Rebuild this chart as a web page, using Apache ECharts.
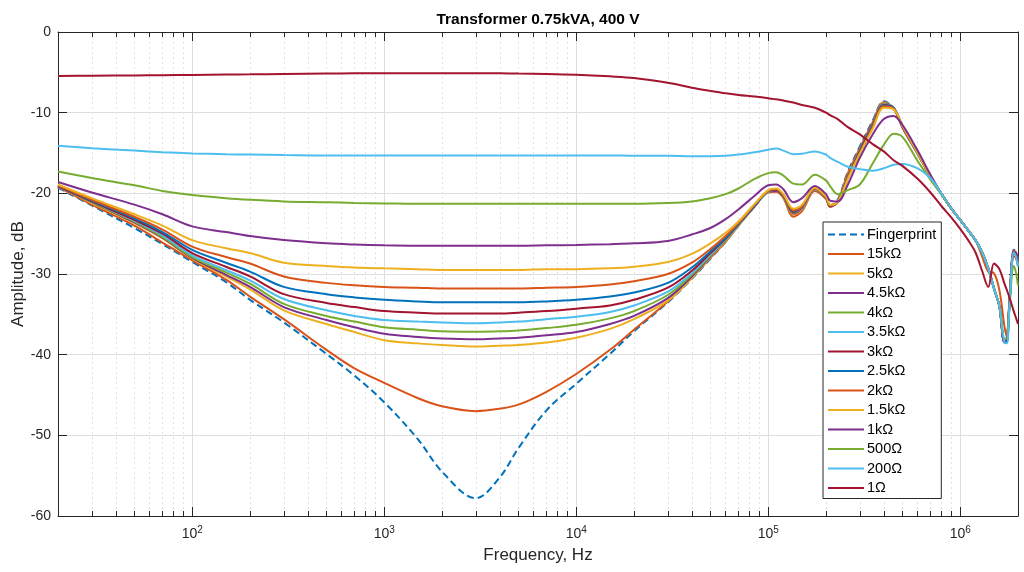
<!DOCTYPE html>
<html><head><meta charset="utf-8">
<script src="https://cdn.jsdelivr.net/npm/echarts@6/dist/echarts.min.js"></script>
<style>html,body{margin:0;padding:0;background:#fff}#c{width:1024px;height:572px}</style>
</head><body><div id="c"></div>
<script>
const freqHz = [20,30,50,70,100,150,200,300,500,700,
  1000,1500,2000,3000,4000,5000,7000,1e4,1.5e4,2e4,
  3e4,4e4,5e4,6e4,7e4,8.5e4,1e5,1.1e5,1.2e5,1.35e5,
  1.5e5,1.75e5,2e5,2.1e5,2.3e5,2.6e5,3e5,3.5e5,4e5,4.5e5,
  5e5,6e5,7e5,8e5,9e5,1e6,1.1e6,1.2e6,1.3e6,1.4e6,
  1.5e6,1.6e6,1.7e6,1.75e6,1.8e6,1.9e6,1.95e6,2e6];

const fingerprint = [-19.3,-21.5,-24.3,-26.3,-28.5,-31.0,-33.2,-36.0,-39.9,-42.6,
  -45.9,-50.5,-54.5,-57.8,-55.2,-51.6,-46.9,-43.6,-39.9,-37.1,
  -33.5,-30.6,-28.1,-26.0,-24.0,-21.6,-19.8,-19.7,-20.5,-22.6,
  -22.0,-19.6,-20.6,-21.5,-20.8,-17.3,-14.2,-11.0,-8.6,-9.5,
  -11.8,-15.1,-17.9,-20.1,-21.9,-23.3,-24.6,-25.8,-27.3,-29.3,
  -31.8,-34.0,-38.4,-38.2,-33.8,-27.0,-27.2,-28.0];
const r15k = [-19.2,-21.4,-24.0,-26.1,-28.3,-30.7,-32.8,-35.6,-39.4,-41.7,
  -43.5,-45.4,-46.4,-47.0,-46.7,-46.2,-44.6,-42.4,-39.4,-36.9,
  -33.4,-30.5,-28.0,-26.0,-24.0,-21.6,-19.9,-19.8,-20.6,-22.9,
  -22.2,-19.7,-20.7,-21.7,-21.0,-17.5,-14.4,-11.2,-8.7,-9.5,
  -11.8,-15.1,-17.9,-20.1,-21.9,-23.3,-24.6,-25.8,-27.3,-29.3,
  -31.8,-34.0,-38.4,-38.2,-33.8,-27.1,-27.3,-28.3];
const r5k = [-19.2,-21.2,-23.7,-25.6,-28.1,-30.3,-31.9,-34.5,-36.2,-37.2,
  -38.2,-38.6,-38.8,-39.0,-38.9,-38.8,-38.5,-37.9,-36.8,-35.6,
  -33.3,-30.5,-27.9,-25.9,-24.0,-21.6,-19.8,-19.7,-20.5,-22.6,
  -22.0,-19.5,-20.6,-21.6,-21.0,-17.7,-14.6,-11.4,-8.8,-9.4,
  -11.8,-15.1,-17.9,-20.1,-21.9,-23.3,-24.6,-25.8,-27.3,-29.3,
  -31.8,-34.0,-38.4,-38.3,-34.0,-27.3,-27.6,-28.6];
const r4k5 = [-19.2,-21.1,-23.6,-25.5,-28.0,-30.1,-31.6,-34.1,-35.7,-36.6,
  -37.4,-37.8,-38.0,-38.1,-38.0,-37.9,-37.6,-37.2,-36.2,-35.2,
  -33.0,-30.3,-27.8,-25.8,-23.9,-21.6,-19.8,-19.7,-20.4,-22.5,
  -21.9,-19.5,-20.6,-21.6,-21.0,-17.8,-14.6,-11.4,-8.9,-9.4,
  -11.8,-15.1,-17.9,-20.1,-21.9,-23.3,-24.6,-25.8,-27.3,-29.3,
  -31.8,-34.0,-38.5,-38.4,-34.2,-27.2,-27.4,-28.4];
const r4k = [-19.1,-21.1,-23.5,-25.4,-27.9,-29.8,-31.2,-33.7,-35.2,-35.9,
  -36.6,-36.9,-37.1,-37.15,-37.1,-37.0,-36.7,-36.3,-35.5,-34.6,
  -32.6,-30.1,-27.7,-25.8,-23.9,-21.5,-19.8,-19.6,-20.4,-22.4,
  -21.8,-19.5,-20.6,-21.6,-21.0,-17.8,-14.7,-11.5,-8.95,-9.4,
  -11.7,-15.1,-17.9,-20.1,-21.9,-23.3,-24.6,-25.8,-27.3,-29.3,
  -31.8,-34.0,-38.3,-38.1,-34.3,-27.8,-28.0,-29.0];
const r3k5 = [-19.1,-21.0,-23.4,-25.2,-27.7,-29.5,-30.8,-33.1,-34.5,-35.2,
  -35.7,-35.9,-36.0,-36.1,-36.0,-35.9,-35.6,-35.3,-34.7,-33.9,
  -32.2,-29.9,-27.6,-25.7,-23.9,-21.5,-19.8,-19.6,-20.3,-22.3,
  -21.8,-19.5,-20.5,-21.6,-21.0,-17.9,-14.8,-11.6,-9.0,-9.4,
  -11.7,-15.1,-17.9,-20.1,-21.9,-23.3,-24.6,-25.8,-27.3,-29.3,
  -31.8,-34.0,-38.5,-38.5,-34.4,-27.6,-27.8,-28.8];
const r3k = [-19.1,-21.0,-23.3,-25.0,-27.4,-29.1,-30.3,-32.5,-33.6,-34.1,
  -34.6,-34.8,-34.9,-34.9,-34.9,-34.8,-34.6,-34.3,-33.9,-33.2,
  -31.7,-29.6,-27.4,-25.6,-23.8,-21.5,-19.7,-19.6,-20.3,-22.3,
  -21.7,-19.4,-20.5,-21.6,-21.1,-17.9,-14.8,-11.6,-9.05,-9.4,
  -11.7,-15.0,-17.9,-20.1,-21.9,-23.3,-24.6,-25.8,-27.3,-29.3,
  -31.8,-34.0,-38.4,-38.3,-34.2,-27.4,-27.5,-28.5];
const r2k5 = [-19.0,-20.9,-23.1,-24.8,-27.0,-28.6,-29.7,-31.6,-32.5,-32.9,
  -33.2,-33.4,-33.5,-33.5,-33.5,-33.5,-33.4,-33.2,-32.8,-32.3,
  -31.1,-29.2,-27.2,-25.5,-23.8,-21.5,-19.7,-19.5,-20.2,-22.2,
  -21.6,-19.4,-20.5,-21.5,-21.1,-18.0,-14.9,-11.7,-9.1,-9.4,
  -11.7,-15.0,-17.9,-20.1,-21.9,-23.3,-24.6,-25.8,-27.3,-29.3,
  -31.8,-34.0,-38.4,-38.4,-34.3,-27.5,-27.7,-28.6];
const r2k = [-19.0,-20.8,-22.9,-24.5,-26.6,-27.9,-28.7,-30.3,-31.1,-31.4,
  -31.6,-31.7,-31.8,-31.8,-31.8,-31.8,-31.7,-31.6,-31.3,-30.9,
  -30.0,-28.6,-26.9,-25.3,-23.7,-21.4,-19.7,-19.5,-20.2,-22.1,
  -21.6,-19.4,-20.5,-21.5,-21.1,-18.0,-15.0,-11.8,-9.2,-9.5,
  -11.7,-15.0,-17.9,-20.1,-21.9,-23.3,-24.6,-25.8,-27.8,-29.7,
  -29.9,-32.0,-36.5,-37.8,-34.0,-27.8,-28.0,-28.9];
const r1k5 = [-18.9,-20.6,-22.6,-24.0,-25.8,-26.8,-27.4,-28.6,-29.0,-29.2,
  -29.3,-29.4,-29.5,-29.5,-29.5,-29.5,-29.4,-29.4,-29.3,-29.1,
  -28.5,-27.5,-26.2,-24.9,-23.5,-21.3,-19.6,-19.4,-20.1,-21.9,
  -21.4,-19.3,-20.4,-21.4,-21.1,-18.2,-15.1,-12.0,-9.4,-9.6,
  -11.6,-15.0,-17.9,-20.1,-21.9,-23.3,-24.6,-25.8,-27.3,-29.3,
  -31.8,-34.0,-38.2,-38.0,-34.0,-27.6,-27.7,-28.7];
const r1k = [-18.6,-19.9,-21.4,-22.6,-24.1,-24.8,-25.3,-25.8,-26.2,-26.35,
  -26.45,-26.5,-26.5,-26.5,-26.5,-26.5,-26.45,-26.4,-26.3,-26.2,
  -25.9,-25.1,-24.3,-23.2,-22.0,-20.3,-19.0,-18.9,-19.5,-21.1,
  -20.6,-19.1,-20.1,-20.9,-21.0,-18.9,-15.6,-12.7,-10.8,-10.4,
  -11.5,-14.7,-17.7,-20.1,-21.9,-23.3,-24.6,-25.8,-27.3,-29.3,
  -31.8,-34.0,-38.3,-38.2,-34.1,-27.4,-27.6,-28.6];
const r500 = [-17.3,-18.1,-19.0,-19.7,-20.2,-20.6,-20.8,-21.0,-21.1,-21.2,
  -21.25,-21.3,-21.3,-21.3,-21.3,-21.3,-21.3,-21.3,-21.3,-21.3,
  -21.2,-21.0,-20.6,-20.1,-19.4,-18.2,-17.5,-17.4,-17.8,-18.8,
  -18.9,-17.7,-18.4,-19.1,-20.1,-19.6,-18.9,-16.3,-14.0,-12.6,
  -13.0,-16.0,-18.3,-20.2,-21.9,-23.3,-24.6,-25.8,-27.3,-29.3,
  -31.8,-34.0,-38.0,-38.0,-34.5,-29.0,-29.8,-31.4];
const r200 = [-14.1,-14.4,-14.7,-14.9,-15.05,-15.15,-15.2,-15.25,-15.3,-15.3,
  -15.3,-15.3,-15.3,-15.3,-15.3,-15.3,-15.3,-15.3,-15.3,-15.35,
  -15.35,-15.4,-15.4,-15.35,-15.2,-14.9,-14.6,-14.45,-14.7,-15.15,
  -15.1,-14.8,-15.2,-15.6,-16.1,-16.7,-17.0,-17.2,-16.9,-16.45,
  -16.35,-16.9,-18.1,-20.1,-21.9,-23.3,-24.6,-25.8,-27.3,-29.3,
  -31.8,-34.0,-38.5,-38.6,-34.5,-27.3,-27.8,-29.1];
const r1 = [-5.45,-5.42,-5.38,-5.35,-5.32,-5.28,-5.25,-5.2,-5.15,-5.12,
  -5.1,-5.1,-5.1,-5.1,-5.12,-5.15,-5.2,-5.3,-5.5,-5.7,
  -6.3,-6.9,-7.3,-7.6,-7.8,-8.0,-8.2,-8.35,-8.5,-8.75,
  -9.05,-9.4,-10.0,-10.3,-10.8,-11.8,-12.7,-13.9,-14.8,-15.9,
  -16.6,-18.2,-19.9,-21.6,-23.0,-24.4,-25.8,-27.3,-29.6,-31.6,
  -28.7,-29.4,-31.2,-32.0,-32.8,-34.6,-35.4,-36.2];

const seriesNames = ['Fingerprint','15kΩ','5kΩ','4.5kΩ','4kΩ','3.5kΩ','3kΩ','2.5kΩ','2kΩ','1.5kΩ','1kΩ','500Ω','200Ω','1Ω'];
const seriesValues = [fingerprint,r15k,r5k,r4k5,r4k,r3k5,r3k,r2k5,r2k,r1k5,r1k,r500,r200,r1];
const seriesColors = ['#0072BD','#D95319','#EDB120','#7E2F8E','#77AC30','#4DBEEE','#A2142F',
  '#0072BD','#D95319','#EDB120','#7E2F8E','#77AC30','#4DBEEE','#A2142F'];
const majorTicks = [100,1000,10000,100000,1000000];
const minorTicks = [30,40,50,60,70,80,90,200,300,400,500,600,700,800,900,
  2000,3000,4000,5000,6000,7000,8000,9000,2e4,3e4,4e4,5e4,6e4,7e4,8e4,9e4,
  2e5,3e5,4e5,5e5,6e5,7e5,8e5,9e5];

const FONT = 'Liberation Sans, Arial, Helvetica, sans-serif';
const AX = '#262626';
const chart = echarts.init(document.getElementById('c'));
const G = {left: 58, right: 6, top: 32, bottom: 56, containLabel: false, outerBoundsMode: 'none'};

function xAx(grid, pos, ticks, len, opts) {
  return Object.assign({
    gridIndex: grid, type: 'log', logBase: 10, min: 20, max: 2e6, position: pos,
    axisLine: {show: false, onZero: false, lineStyle: {color: AX}},
    axisTick: {show: true, inside: true, length: len, customValues: ticks, lineStyle: {color: AX}},
    axisLabel: {show: false},
    splitLine: {show: false},
    minorTick: {show: false}, minorSplitLine: {show: false}
  }, opts);
}

const option = {
  animation: false,
  backgroundColor: '#fff',
  textStyle: {fontFamily: FONT},
  title: {
    text: 'Transformer 0.75kVA, 400 V', left: 533, top: 7, textAlign: 'center',
    textStyle: {fontFamily: FONT, fontSize: 15.5, fontWeight: 'bold', color: '#000'}
  },
  grid: [Object.assign({}, G), Object.assign({}, G)],
  legend: {
    orient: 'vertical', left: 823, top: 222,
    data: seriesNames,
    itemWidth: 36, itemHeight: 14, itemGap: 4.5,
    padding: [5, 5, 3, 4],
    backgroundColor: '#fff', borderColor: AX, borderWidth: 1, borderRadius: 0,
    itemStyle: {opacity: 0},
    textStyle: {fontFamily: FONT, fontSize: 14.5, color: '#000', padding: [0,0,0,-2]},
    selectedMode: false
  },
  xAxis: [
    xAx(0, 'bottom', majorTicks, 9, {
      axisLine: {show: true, onZero: false, lineStyle: {color: AX}},
      splitLine: {show: true, lineStyle: {color: '#dedede', width: 1}},
      axisLabel: {
        show: true, customValues: majorTicks, margin: 9, color: AX,
        formatter: function (v) { return '{b|10}{s|' + Math.round(Math.log10(v)) + '}'; },
        rich: {b: {fontSize: 14, fontFamily: FONT, color: AX}, s: {fontSize: 10, fontFamily: FONT, color: AX, padding: [0,0,9,0]}}
      },
      name: 'Frequency, Hz', nameLocation: 'middle', nameGap: 29,
      nameTextStyle: {fontFamily: FONT, fontSize: 17, color: AX}
    }),
    xAx(0, 'top', majorTicks, 9, {axisLine: {show: true, onZero: false, lineStyle: {color: AX}}}),
    xAx(1, 'bottom', minorTicks, 5, {
      splitLine: {show: true, lineStyle: {color: '#e2e2e2', width: 1, type: [2, 3]}}
    }),
    xAx(1, 'top', minorTicks, 5, {})
  ],
  yAxis: [
    {
      gridIndex: 0, type: 'value', min: -60, max: 0, interval: 10, position: 'left',
      axisLine: {show: true, onZero: false, lineStyle: {color: AX}},
      axisTick: {show: true, inside: true, length: 9, lineStyle: {color: AX}},
      axisLabel: {color: AX, fontSize: 14, fontFamily: FONT, margin: 7},
      splitLine: {show: true, lineStyle: {color: '#dedede', width: 1}},
      name: 'Amplitude, dB', nameLocation: 'middle', nameGap: 31, nameMoveOverlap: false,
      nameTextStyle: {fontFamily: FONT, fontSize: 17, color: AX}
    },
    {
      gridIndex: 0, type: 'value', min: -60, max: 0, interval: 10, position: 'right',
      axisLine: {show: true, onZero: false, lineStyle: {color: AX}},
      axisTick: {show: true, inside: true, length: 9, lineStyle: {color: AX}},
      axisLabel: {show: false}, splitLine: {show: false}
    },
    {gridIndex: 1, type: 'value', min: -60, max: 0, interval: 10, show: false}
  ],
  series: seriesNames.map(function (name, k) {
    return {
      name: name, type: 'line', xAxisIndex: 0, yAxisIndex: 0,
      data: freqHz.map(function (f, i) { return [f, seriesValues[k][i]]; }),
      showSymbol: false, symbol: 'none', smooth: 0.35,
      color: seriesColors[k],
      lineStyle: {width: 2, color: seriesColors[k], type: k === 0 ? [7, 4] : 'solid'},
      z: 2 + k
    };
  })
};
chart.setOption(option);
</script></body></html>
